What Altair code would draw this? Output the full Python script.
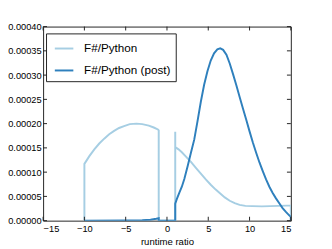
import altair as alt
import pandas as pd

FONT = "Liberation Sans"

# F#/Python (light) curve
light_x = [-10, -10, -9.4, -8.8, -8.2, -7.6, -7.0, -6.4, -5.8, -5.2, -4.5, -3.7, -3.0, -2.2, -1.6,
           -1.1, -1.0, -1.0, 1.0, 1.0, 1.0, 1.4, 1.8, 2.3, 2.9, 3.5, 4.1, 4.7, 5.3, 5.9, 6.45, 7.0,
           7.6, 8.2, 8.8, 9.5, 10.35, 11.5, 12.5, 13.5, 14.5, 15.0, 15.0]
light_y = [0, 1.17e-4, 1.33e-4, 1.47e-4, 1.59e-4, 1.69e-4, 1.78e-4, 1.85e-4, 1.91e-4, 1.95e-4,
           1.99e-4, 2.00e-4, 1.99e-4, 1.96e-4, 1.92e-4, 1.88e-4, 1.86e-4, 0, 0, 1.83e-4, 1.52e-4,
           1.47e-4, 1.41e-4, 1.32e-4, 1.21e-4, 1.09e-4, 9.7e-5, 8.5e-5, 7.4e-5, 6.4e-5, 5.6e-5,
           4.8e-5, 4.1e-5, 3.6e-5, 3.25e-5, 3.05e-5, 3.0e-5, 2.95e-5, 3.0e-5, 3.05e-5, 3.1e-5,
           3.1e-5, 0]

# F#/Python (post) (dark) curve
dark_x = [-10, -5, -3, -2, -1.3, -1.0, -1.0, 1.0, 1.0, 1.2, 1.5, 1.8, 2.1, 2.5, 2.9, 3.3, 3.7,
          4.1, 4.5, 4.9, 5.3, 5.7, 6.1, 6.45, 6.8, 7.2, 7.6, 8.0, 8.4, 8.8, 9.2, 9.6, 10.0, 10.4,
          10.8, 11.2, 11.6, 12.0, 12.4, 12.8, 13.2, 13.6, 14.0, 14.4, 14.8, 15.0, 15.0]
dark_y = [0, 2e-7, 1e-6, 2e-6, 4e-6, 5e-6, 0, 0, 3.5e-5, 4.5e-5, 5.8e-5, 7.0e-5, 8.6e-5, 1.12e-4,
          1.40e-4, 1.67e-4, 2.05e-4, 2.45e-4, 2.80e-4, 3.08e-4, 3.30e-4, 3.45e-4, 3.53e-4, 3.55e-4,
          3.52e-4, 3.42e-4, 3.24e-4, 3.02e-4, 2.79e-4, 2.55e-4, 2.31e-4, 2.08e-4, 1.84e-4, 1.61e-4,
          1.40e-4, 1.20e-4, 1.02e-4, 8.5e-5, 7.0e-5, 5.7e-5, 4.6e-5, 3.6e-5, 2.6e-5, 1.8e-5,
          1.1e-5, 8e-6, 0]

series_names = ["F#/Python", "F#/Python (post)"]
series_colors = ["#a6cee3", "#2f80bd"]

x_ticks = [-15, -10, -5, 0, 5, 10, 15]
y_ticks = [0, 0.00005, 0.0001, 0.00015, 0.0002, 0.00025, 0.0003, 0.00035, 0.0004]

W, H = 254, 199

light = pd.DataFrame({"x": light_x, "y": light_y, "s": series_names[0],
                      "i": range(len(light_x))})
dark = pd.DataFrame({"x": dark_x, "y": dark_y, "s": series_names[1],
                     "i": range(len(dark_x))})
xt = pd.DataFrame({"v": x_ticks})
yt = pd.DataFrame({"v": y_ticks})

xs = alt.Scale(domain=[-15, 15], nice=False, zero=False)
ys = alt.Scale(domain=[0, 0.0004], nice=False)
xaxis = alt.Axis(values=x_ticks, format="d", labelPadding=3, titlePadding=4)
yaxis = alt.Axis(values=y_ticks, format=".5f", labelPadding=2)

color = alt.Color("s:N", title=None,
                  scale=alt.Scale(domain=series_names, range=series_colors),
                  legend=alt.Legend(orient="none", legendX=3, legendY=7,
                                    symbolType="stroke", symbolSize=361,
                                    symbolStrokeWidth=2, symbolOffset=3,
                                    labelOffset=10, labelFontSize=12,
                                    labelFont=FONT, labelColor="black",
                                    padding=5, rowPadding=5.5,
                                    strokeColor="#222", fillColor="white"))


def X(f):
    return alt.X(f, type="quantitative", scale=xs, axis=xaxis, title="runtime ratio")


def Y(f):
    return alt.Y(f, type="quantitative", scale=ys, axis=yaxis, title=None)


l1 = alt.Chart(light).mark_line(strokeWidth=2, clip=True).encode(
    x=X("x"), y=Y("y"), color=color, order=alt.Order("i:Q"))
l2 = alt.Chart(dark).mark_line(strokeWidth=2, clip=True).encode(
    x=X("x"), y=Y("y"), color=color, order=alt.Order("i:Q"))

tick_color = "#222"
tb = alt.Chart(xt).mark_rule(color=tick_color).encode(x=X("v"), y=alt.value(H), y2=alt.value(H - 4))
tt = alt.Chart(xt).mark_rule(color=tick_color).encode(x=X("v"), y=alt.value(0), y2=alt.value(4))
tl = alt.Chart(yt).mark_rule(color=tick_color).encode(y=Y("v"), x=alt.value(0), x2=alt.value(4))
tr = alt.Chart(yt).mark_rule(color=tick_color).encode(y=Y("v"), x=alt.value(W - 4), x2=alt.value(W))

chart = alt.layer(l1, l2, tb, tt, tl, tr).properties(
    width=W, height=H,
    autosize=alt.AutoSizeParams(type="none"),
    padding={"left": 36, "top": 16, "right": 34, "bottom": 26},
    background="white",
).configure_view(stroke="#222", strokeWidth=1).configure_axis(
    domain=False, ticks=False, grid=False,
    labelFont=FONT, labelFontSize=9.5, labelColor="black",
    titleFont=FONT, titleFontSize=9.8, titleFontWeight="normal",
    titleColor="black",
)

chart.save("out.html", embed_options={"renderer": "svg", "actions": False})
